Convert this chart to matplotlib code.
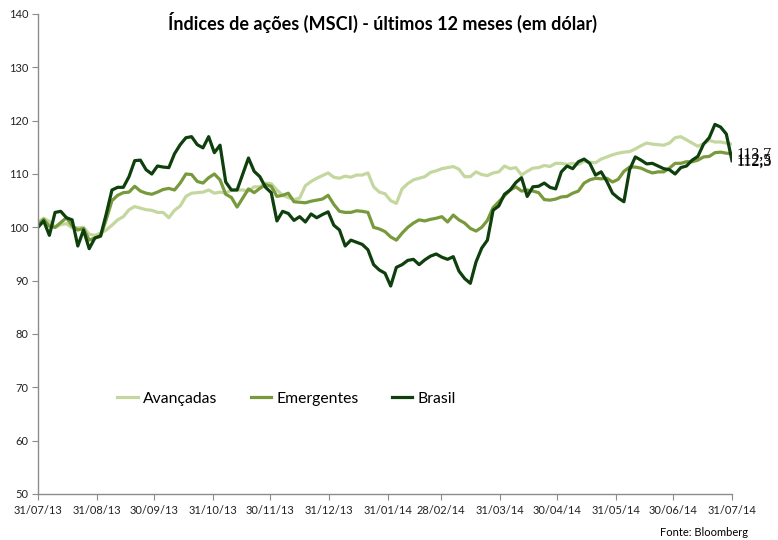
import matplotlib
matplotlib.use("Agg")
import matplotlib.pyplot as plt
import pandas as pd
import numpy as np

title = "Índices de ações (MSCI) - últimos 12 meses (em dólar)"
series_names = ["Avançadas", "Emergentes", "Brasil"]
colors = ["#C4D79F", "#789A3C", "#0E3F0C"]

dates = pd.date_range("2013-07-31", "2014-07-31", periods=123)

avancadas = [
    101.0, 101.7, 101.1, 100.0, 100.5, 100.7, 99.9, 99.9, 100.0, 98.7,
    98.5, 98.9, 99.5, 100.4, 101.4, 102.0, 103.3, 103.9, 103.6, 103.3,
    103.2, 102.8, 102.8, 101.8, 103.2, 104.0, 105.8, 106.4, 106.5, 106.6,
    107.0, 106.4, 106.6, 106.4, 107.0, 107.0, 107.0, 106.8, 107.6, 107.6,
    108.3, 108.2, 107.0, 106.0, 105.6, 105.2, 105.5, 107.8, 108.6, 109.2,
    109.7, 110.2, 109.4, 109.2, 109.6, 109.4, 109.8, 109.8, 110.2, 107.6,
    106.6, 106.3, 105.0, 104.5, 107.2, 108.2, 108.9, 109.2, 109.5, 110.3,
    110.6, 111.0, 111.2, 111.4, 110.9, 109.5, 109.5, 110.4, 109.9, 109.7,
    110.2, 110.4, 111.5, 111.0, 111.2, 109.8, 110.5, 111.1, 111.2, 111.6,
    111.4, 112.0, 112.0, 111.8, 112.0, 111.8, 112.4, 112.2, 112.1, 112.8,
    113.2, 113.6, 113.9, 114.1, 114.2, 114.7, 115.3, 115.8, 115.6, 115.5,
    115.4, 115.8, 116.8, 117.0, 116.4, 115.8, 115.2, 115.7, 116.3, 116.0,
    116.0, 115.8, 115.6,
]

emergentes = [
    100.5, 101.5, 100.2, 100.0, 100.9, 101.8, 100.3, 99.5, 99.8, 97.6,
    98.0, 98.3, 101.5, 105.0, 106.0, 106.5, 106.6, 107.7, 106.8, 106.4,
    106.2, 106.6, 107.1, 107.3, 107.0, 108.3, 110.0, 109.9, 108.6, 108.3,
    109.3, 110.0, 108.9, 106.2, 105.6, 103.8, 105.5, 107.2, 106.5, 107.3,
    108.0, 107.7, 105.8, 106.0, 106.4, 104.8, 104.7, 104.6, 104.9, 105.1,
    105.3, 106.0, 104.3, 103.0, 102.8, 102.8, 103.1, 103.0, 102.8, 100.0,
    99.7, 99.2, 98.2, 97.6, 98.9, 100.0, 100.8, 101.4, 101.2, 101.5,
    101.7, 102.0, 101.0, 102.3, 101.4, 100.8, 99.8, 99.3, 100.0, 101.3,
    103.7, 104.8, 105.9, 107.0, 107.6, 106.8, 107.0, 106.8, 106.5, 105.2,
    105.1, 105.3, 105.7, 105.8, 106.4, 106.8, 108.3, 108.9, 109.2, 109.1,
    109.2, 108.5, 109.0, 110.5, 111.3, 111.3, 111.1, 110.6, 110.2, 110.4,
    110.4, 111.1, 112.0, 112.0, 112.3, 112.3, 112.6, 113.2, 113.3, 114.0,
    114.1, 113.9, 113.8,
]

brasil = [
    100.0, 101.2, 98.5, 102.8, 103.0, 101.8, 101.4, 96.5, 99.5, 96.0,
    98.0, 98.4, 102.5, 107.0, 107.5, 107.5, 109.5, 112.5, 112.6, 110.8,
    110.0, 111.5, 111.3, 111.2, 113.8, 115.5, 116.8, 117.0, 115.5, 114.9,
    117.0, 114.0, 115.4, 108.5, 107.0, 107.0, 110.0, 113.0, 110.5, 109.5,
    107.5, 106.5, 101.2, 103.0, 102.6, 101.3, 102.0, 101.0, 102.5, 101.8,
    102.4, 102.9, 100.4, 99.5, 96.5, 97.6, 97.2, 96.8, 95.8, 93.0,
    92.0, 91.4, 89.0, 92.5, 93.0, 93.8, 94.0, 93.0, 93.9, 94.6,
    95.0, 94.4, 94.0, 94.5, 91.8, 90.4, 89.5, 93.5, 96.1, 97.6,
    103.2, 104.0, 106.2, 107.0, 108.4, 109.3, 105.8, 107.6, 107.7, 108.3,
    107.5, 107.2, 110.4, 111.5, 111.0, 112.3, 112.8, 112.0, 109.8, 110.4,
    108.6, 106.4, 105.5, 104.8, 110.8, 113.2, 112.6, 111.9, 112.0, 111.5,
    111.0, 110.8, 110.0, 111.2, 111.5, 112.6, 113.3, 115.6, 116.8, 119.3,
    118.8, 117.5, 112.5,
]

tick_dates = ["2013-07-31", "2013-08-31", "2013-09-30", "2013-10-31", "2013-11-30",
              "2013-12-31", "2014-01-31", "2014-02-28", "2014-03-31", "2014-04-30",
              "2014-05-31", "2014-06-30", "2014-07-31"]
tick_labels = ["31/07/13", "31/08/13", "30/09/13", "31/10/13", "30/11/13", "31/12/13",
               "31/01/14", "28/02/14", "31/03/14", "30/04/14", "31/05/14", "30/06/14",
               "31/07/14"]
end_labels = ["113,7", "112,5", "112,3"]
end_values = [113.7, 112.5, 112.3]
source = "Fonte: Bloomberg"

plt.rcParams['font.family'] = ['Lato', 'DejaVu Sans']

fig = plt.figure(figsize=(7.78, 5.40), dpi=100)
ax = fig.add_axes([38/778, 1-494/540, (732-38)/778, (494-14)/540])

for name, vals, c in zip(series_names, [avancadas, emergentes, brasil], colors):
    ax.plot(dates, vals, color=c, lw=2.3, label=name, solid_joinstyle='round')

ax.set_ylim(50, 140)
ax.set_yticks(np.arange(50, 141, 10))
ax.set_xlim(pd.Timestamp(tick_dates[0]), pd.Timestamp(tick_dates[-1]))
ax.set_xticks(pd.to_datetime(tick_dates))
ax.set_xticklabels(tick_labels)

for s in ["top", "right"]:
    ax.spines[s].set_visible(False)
for s in ["left", "bottom"]:
    ax.spines[s].set_color("#8c8c8c")
    ax.spines[s].set_linewidth(1.0)
ax.tick_params(axis="both", direction="out", length=4, color="#8c8c8c",
               labelsize=8, labelcolor="#222222", pad=3)
ax.tick_params(axis="x", pad=4)

leg = ax.legend(ncol=3, loc="center left", bbox_to_anchor=(0.094, 0.198),
                frameon=False, fontsize=11.3, handlelength=1.3, columnspacing=2.1,
                handletextpad=0.35)

fig.text(382/778, 1-22/540, title, ha="center", va="center", fontsize=13,
         fontweight="bold")

last = dates[-1]
for lab, v in zip(end_labels, end_values):
    ax.annotate(lab, xy=(last, v), xytext=(3.5, 0), textcoords="offset points",
                ha="left", va="center", fontsize=11.5, family="Liberation Serif",
                annotation_clip=False)

fig.text(748/778, 1-533/540, source, ha="right", va="center", fontsize=8)

fig.savefig("out.png", dpi=100)
